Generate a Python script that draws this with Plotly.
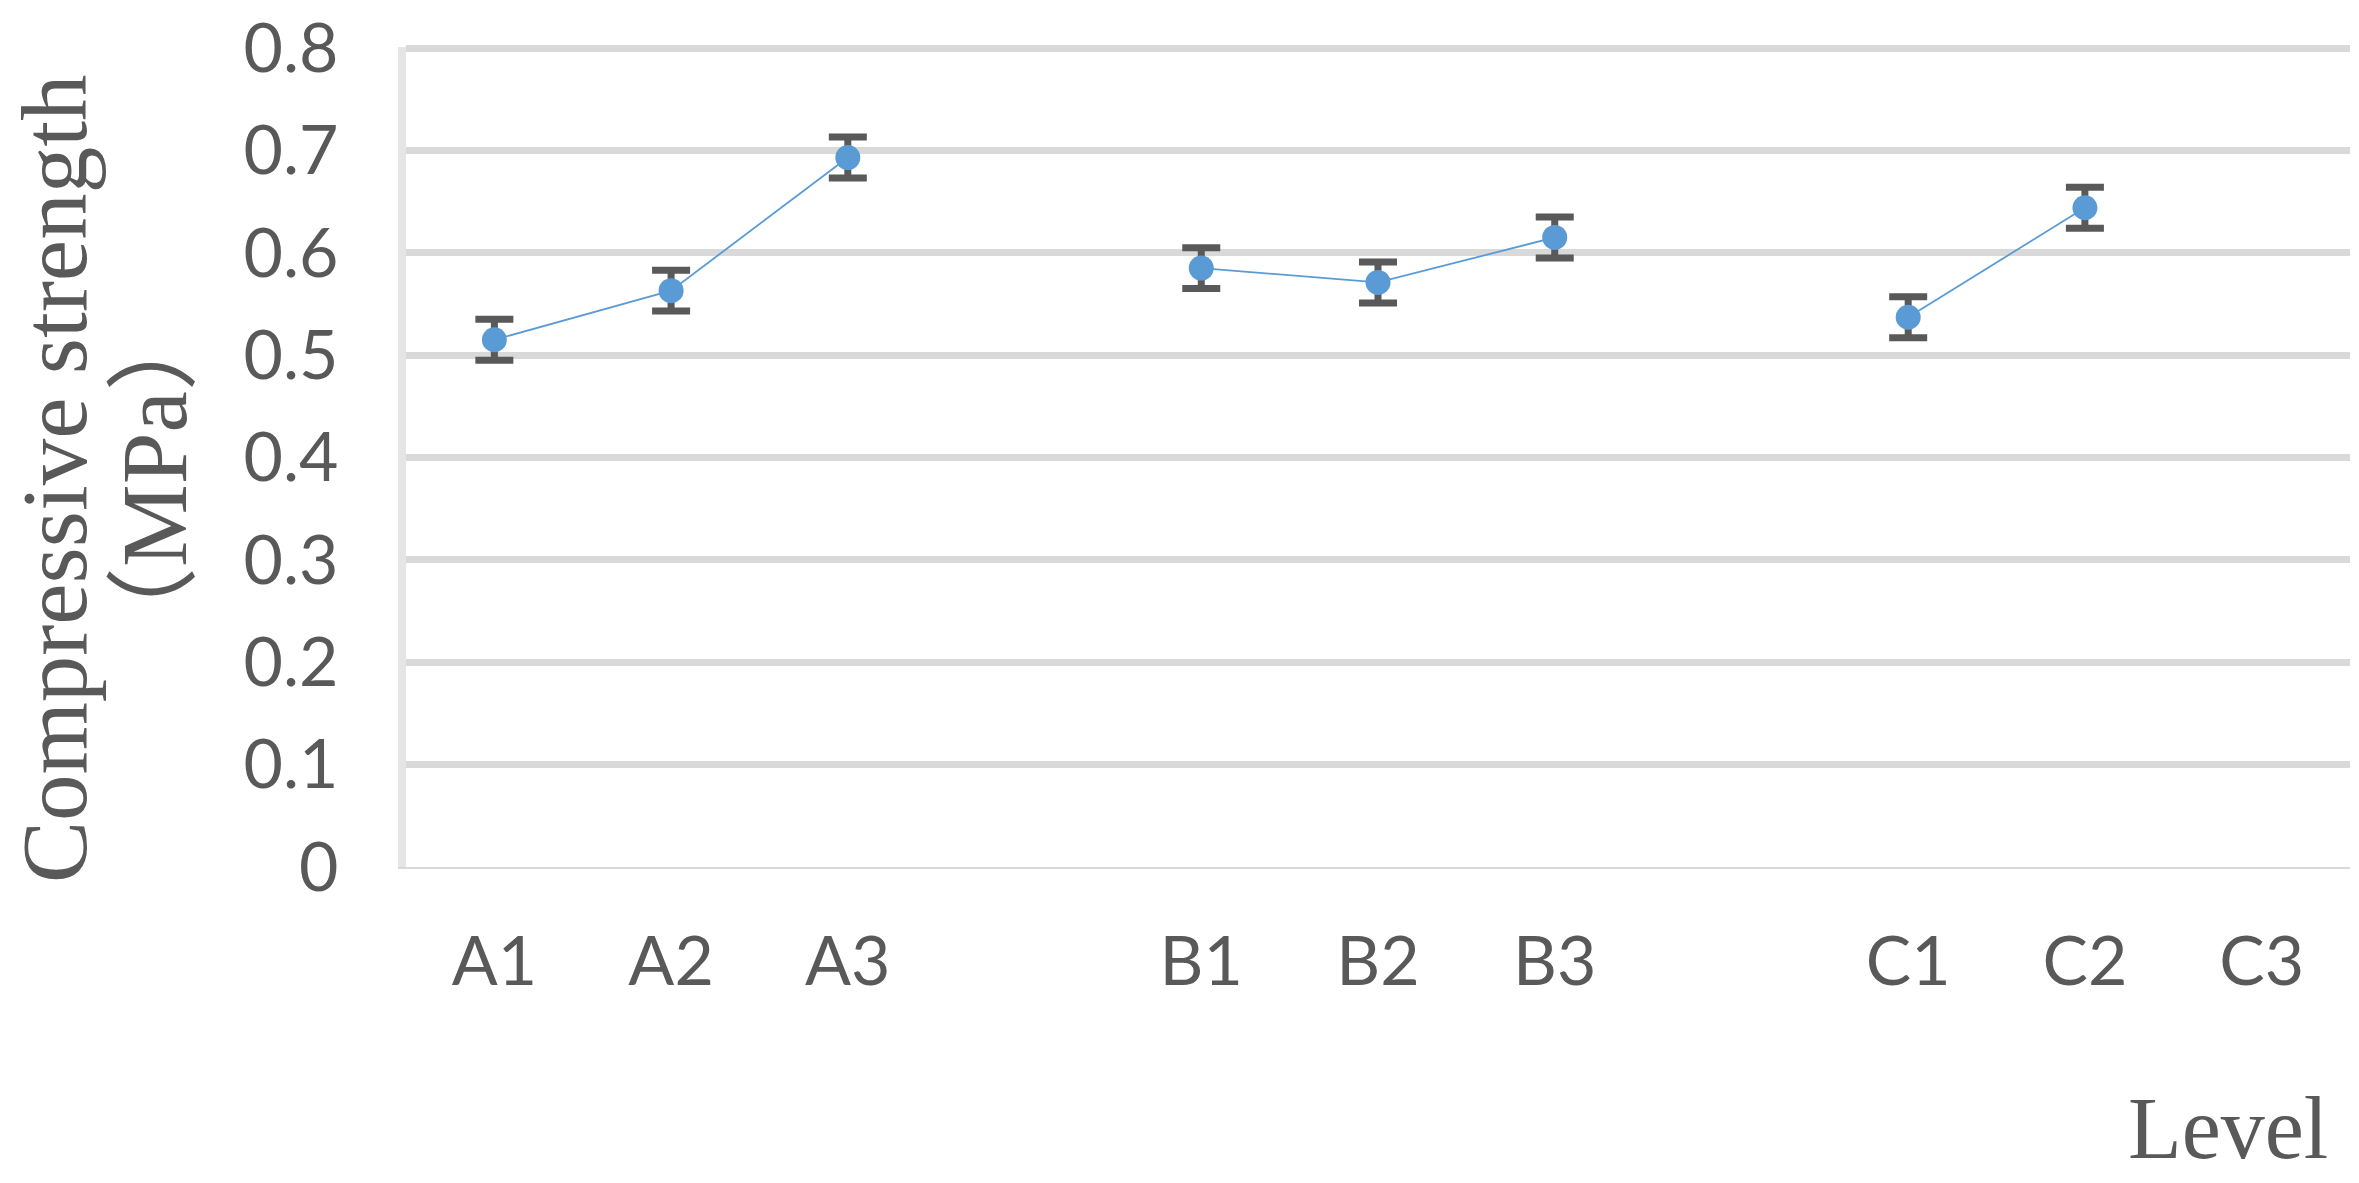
import plotly.graph_objects as go

# category slots, blanks keep the gaps between groups as in the original
levels = ["A1", "A2", "A3", " ", "B1", "B2", "B3", "  ", "C1", "C2", "C3"]
strength = [0.515, 0.563, 0.693, None, 0.585, 0.571, 0.615, None, 0.537, 0.644, None]
err = [0.02, 0.02, 0.02, None, 0.02, 0.02, 0.02, None, 0.02, 0.02, None]

y_ticks = [0, 0.1, 0.2, 0.3, 0.4, 0.5, 0.6, 0.7, 0.8]
grid_ticks = [0.1, 0.2, 0.3, 0.4, 0.5, 0.6, 0.7, 0.8]
y_range = [0, 0.801]

BLUE = "#5B9BD5"
GREY = "#595959"

W, H = 2359, 1183
L, R, T, B = 406, 9, 47, 316
plot_w = W - L - R
plot_h = H - T - B


def px_x(px):
    return (px - L) / plot_w


def px_y(py):
    return (H - B - py) / plot_h


fig = go.Figure()
fig.add_trace(
    go.Scatter(
        x=levels,
        y=strength,
        mode="lines+markers",
        line=dict(color=BLUE, width=1.8),
        marker=dict(color=BLUE, size=25),
        error_y=dict(type="data", array=err, visible=True,
                     color=GREY, thickness=7, width=19),
        connectgaps=False,
        showlegend=False,
    )
)
# invisible trace on the overlay axis so its grid gets drawn
fig.add_trace(
    go.Scatter(x=levels[:1], y=[0], yaxis="y2", mode="markers",
               marker=dict(opacity=0), showlegend=False, hoverinfo="skip")
)

fig.update_layout(
    width=W,
    height=H,
    margin=dict(l=L, r=R, t=T, b=B, autoexpand=False),
    paper_bgcolor="white",
    plot_bgcolor="white",
    font=dict(family="Lato, sans-serif", color=GREY),
    xaxis=dict(
        type="category",
        categoryorder="array",
        categoryarray=levels,
        range=[-0.5, len(levels) - 0.5],
        showgrid=False,
        zeroline=False,
        showline=True,
        linecolor="#D9D9D9",
        linewidth=1.5,
        ticks="",
        tickfont=dict(size=68, color=GREY),
        ticklabelstandoff=35,
    ),
    yaxis=dict(
        range=y_range,
        tickvals=y_ticks,
        showgrid=False,
        zeroline=False,
        showline=True,
        linecolor="#E5E5E5",
        linewidth=8,
        ticks="",
        tickfont=dict(size=68, color=GREY),
        ticklabelstandoff=46,
        ticklabeloverflow="allow",
    ),
    yaxis2=dict(
        range=y_range,
        overlaying="y",
        tickvals=grid_ticks,
        showgrid=True,
        gridcolor="#D9D9D9",
        gridwidth=6.5,
        showticklabels=False,
        zeroline=False,
        showline=False,
        layer="below traces",
    ),
)

title_font = dict(family="Liberation Serif, Noto Sans CJK SC, serif", size=93, color=GREY)
for text, cx in [("Compressive strength", 54), ("（MPa）", 154)]:
    fig.add_annotation(
        text=text,
        textangle=-90,
        xref="paper", yref="paper",
        x=px_x(cx), y=px_y(479),
        xanchor="center", yanchor="middle",
        showarrow=False,
        font=title_font,
    )
fig.add_annotation(
    text="Level",
    xref="paper", yref="paper",
    x=px_x(2330), y=px_y(1128),
    xanchor="right", yanchor="middle",
    showarrow=False,
    font=dict(family="Liberation Serif, serif", size=88, color=GREY),
)

# drop the default body margin so the figure fills the window exactly
fig.write_html(
    "out.html",
    config={"displayModeBar": False},
    post_script="document.body.style.margin = '0';",
)
